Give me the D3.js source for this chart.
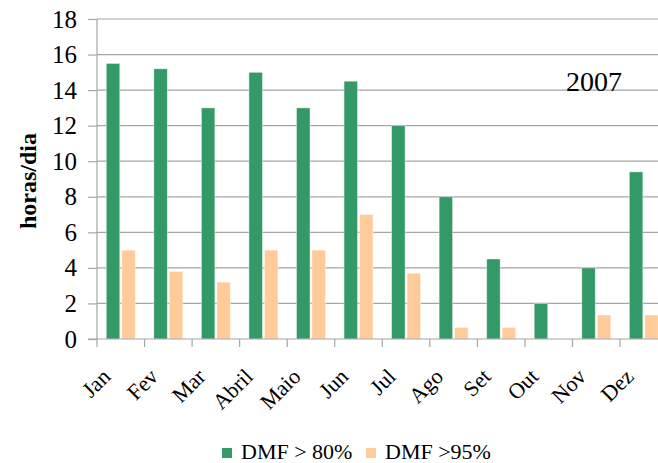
<!DOCTYPE html>
<html><head><meta charset="utf-8">
<script src="https://cdn.jsdelivr.net/npm/d3@7"></script>
<style>body{margin:0;background:#fff}svg{display:block}</style>
</head><body><svg id="c" width="658" height="463"></svg>
<script>
const months = ["Jan","Fev","Mar","Abril","Maio","Jun","Jul","Ago","Set","Out","Nov","Dez"];
const seriesNames = ["DMF > 80%","DMF >95%"];
const dmf80 = [15.5,15.2,13,15,13,14.5,12,8,4.5,2,4,9.4];
const dmf95 = [5,3.8,3.2,5,5,7,3.7,0.65,0.65,0,1.35,1.35];
const yTicks = [0,2,4,6,8,10,12,14,16,18];
const colors = ["#339966","#ffcc99"];
const yearLabel = "2007";
const yTitle = "horas/dia";
const FONT = "Liberation Serif";

const svg = d3.select("#c");
const mLeft = 97, mTop = 19, mBottom = 339, step = 47.55;
const x0 = d3.scaleBand().domain(months).range([mLeft, mLeft + step*months.length]).padding(0);
const x1 = d3.scaleBand().domain(seriesNames).range([0, x0.bandwidth()]).paddingInner(0.13).paddingOuter(0.6);
const y = d3.scaleLinear().domain([0,18]).range([mBottom, mTop]);
const mRight = 700;

// gridlines
svg.append("g").selectAll("line").data(yTicks.filter(d=>d>0)).join("line")
  .attr("x1", mLeft).attr("x2", mRight).attr("y1", d=>y(d)).attr("y2", d=>y(d))
  .attr("stroke", "#a6a6a6").attr("stroke-width", 1.2);

// bars
const data = [dmf80, dmf95];
const g = svg.append("g");
seriesNames.forEach((s, si) => {
  g.selectAll(null).data(months).join("rect")
    .attr("x", m => x0(m) + x1(s))
    .attr("width", x1.bandwidth())
    .attr("y", (m,i) => y(data[si][i]))
    .attr("height", (m,i) => y(0) - y(data[si][i]))
    .attr("fill", colors[si])
    .attr("stroke", "rgba(255,255,255,0.5)").attr("stroke-width", 0.8);
});

// y axis
const ya = svg.append("g").attr("transform", `translate(${mLeft},0)`)
  .call(d3.axisLeft(y).tickValues(yTicks).tickSize(9).tickPadding(11).tickFormat(d3.format("d")));
ya.attr("font-family", FONT).attr("font-size", 25);
ya.select(".domain").attr("stroke", "#a6a6a6").attr("stroke-width", 1.2).attr("d", `M0,${mTop}V${mBottom}`);
ya.selectAll(".tick line").attr("stroke", "#a6a6a6").attr("stroke-width", 1.2);
ya.selectAll(".tick text").attr("font-size", 25).attr("fill", "#000").attr("font-family", FONT);

// x axis
const xa = svg.append("g").attr("transform", `translate(0,${mBottom})`);
xa.append("line").attr("x1", mLeft - 9).attr("x2", mRight).attr("y1", 0).attr("y2", 0)
  .attr("stroke", "#a6a6a6").attr("stroke-width", 1.2);
xa.selectAll(".tk").data(months).join("line").attr("class","tk")
  .attr("x1", m => x0(m)).attr("x2", m => x0(m)).attr("y1", 0).attr("y2", 8)
  .attr("stroke", "#a6a6a6").attr("stroke-width", 1.2);
xa.selectAll(".lb").data(months).join("text").attr("class","lb")
  .attr("transform", m => `translate(${x0(m) + x0.bandwidth()/2 - 9},${378-mBottom}) rotate(-45)`)
  .attr("text-anchor", "end").attr("font-size", 22).attr("fill", "#000").attr("font-family", FONT).text(m => m);

// y title
svg.append("text").attr("transform", "translate(36,181) rotate(-90)").attr("font-family", FONT)
  .attr("text-anchor", "middle").attr("font-size", 24).attr("font-weight", "bold").text(yTitle);

// year
svg.append("text").attr("x", 566).attr("y", 91).attr("font-size", 28).attr("font-family", FONT).text(yearLabel);

// legend
const legX = [222, 366];
seriesNames.forEach((s, i) => {
  svg.append("rect").attr("x", legX[i]).attr("y", 448).attr("width", 10).attr("height", 10).attr("fill", colors[i]);
  svg.append("text").attr("x", legX[i] + 19).attr("y", 459).attr("font-size", 22).attr("font-family", FONT).text(s);
});
</script></body></html>
